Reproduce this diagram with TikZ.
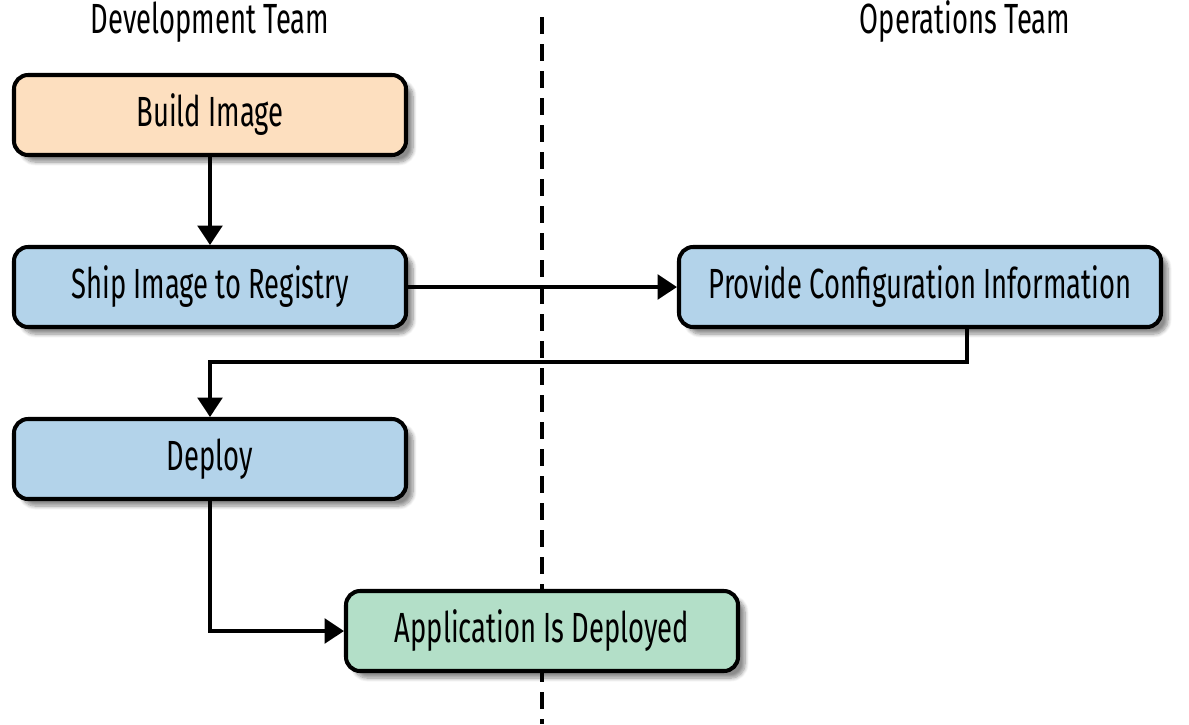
\documentclass[tikz,border=0pt]{standalone}
\usepackage{fontspec}
\setmainfont[FakeStretch=0.65]{Fira Sans}
\usepackage{tikz}
\usetikzlibrary{arrows.meta}
\usetikzlibrary{calc}
\usetikzlibrary{shadows.blur}
\tikzset{>={Triangle[length=11pt,width=14pt]}}
\definecolor{buildfill}{HTML}{FDDFBF}
\definecolor{stepfill}{HTML}{B3D3EA}
\definecolor{donefill}{HTML}{B3DFC8}
\tikzstyle{basebox} = [rectangle, rounded corners=8pt, minimum width=7.84cm, minimum height=1.6cm, text centered, draw=black, line width=2.3pt, font=\fontsize{24}{28}\selectfont, blur shadow={shadow xshift=4pt, shadow yshift=-4pt, shadow blur steps=8, shadow opacity=45}]
\tikzstyle{buildbox} = [basebox, fill=buildfill]
\tikzstyle{stepbox} = [basebox, fill=stepfill]
\tikzstyle{donebox} = [basebox, fill=donefill]
\tikzstyle{teamlabel} = [font=\fontsize{24}{28}\selectfont]
\tikzstyle{arrow} = [line width=2pt,->]
\tikzstyle{divider} = [line width=2.3pt, dash pattern=on 0.34cm off 0.2cm]

\begin{document}
\begin{tikzpicture}[node distance=3.44cm]
\useasboundingbox (0,0) rectangle (23.78,-14.48);
% lane divider
\coordinate (top) at (10.84,-0.34);
\coordinate (bottom) at (10.84,-14.48);
\draw [divider] (top) -- (bottom);
% boxes
\node (build) [buildbox] at (4.2,-2.3) {Build Image};
\node (ship) [stepbox, below of=build] {Ship Image to Registry};
\node (deploy) [stepbox, below of=ship] {Deploy};
\node (provide) [stepbox, right of=ship, xshift=10.76cm, minimum width=9.64cm] {Provide Configuration Information};
\node (app) [donebox, below of=deploy, xshift=6.64cm] {Application Is Deployed};
% team headings
\node (dev) [teamlabel, above of=build, yshift=-1.58cm] {Development Team};
\node (ops) [teamlabel, above of=provide, xshift=0.9cm, yshift=1.86cm] {Operations Team};
% connectors
\draw [arrow] (build) -- (ship);
\draw [arrow] (ship) -- (provide);
\draw [arrow] ([xshift=0.94cm]provide.south) -- ++(0,-0.66) -| (deploy.north);
\draw [arrow] (deploy.south) |- (app.west);
\end{tikzpicture}
\end{document}
